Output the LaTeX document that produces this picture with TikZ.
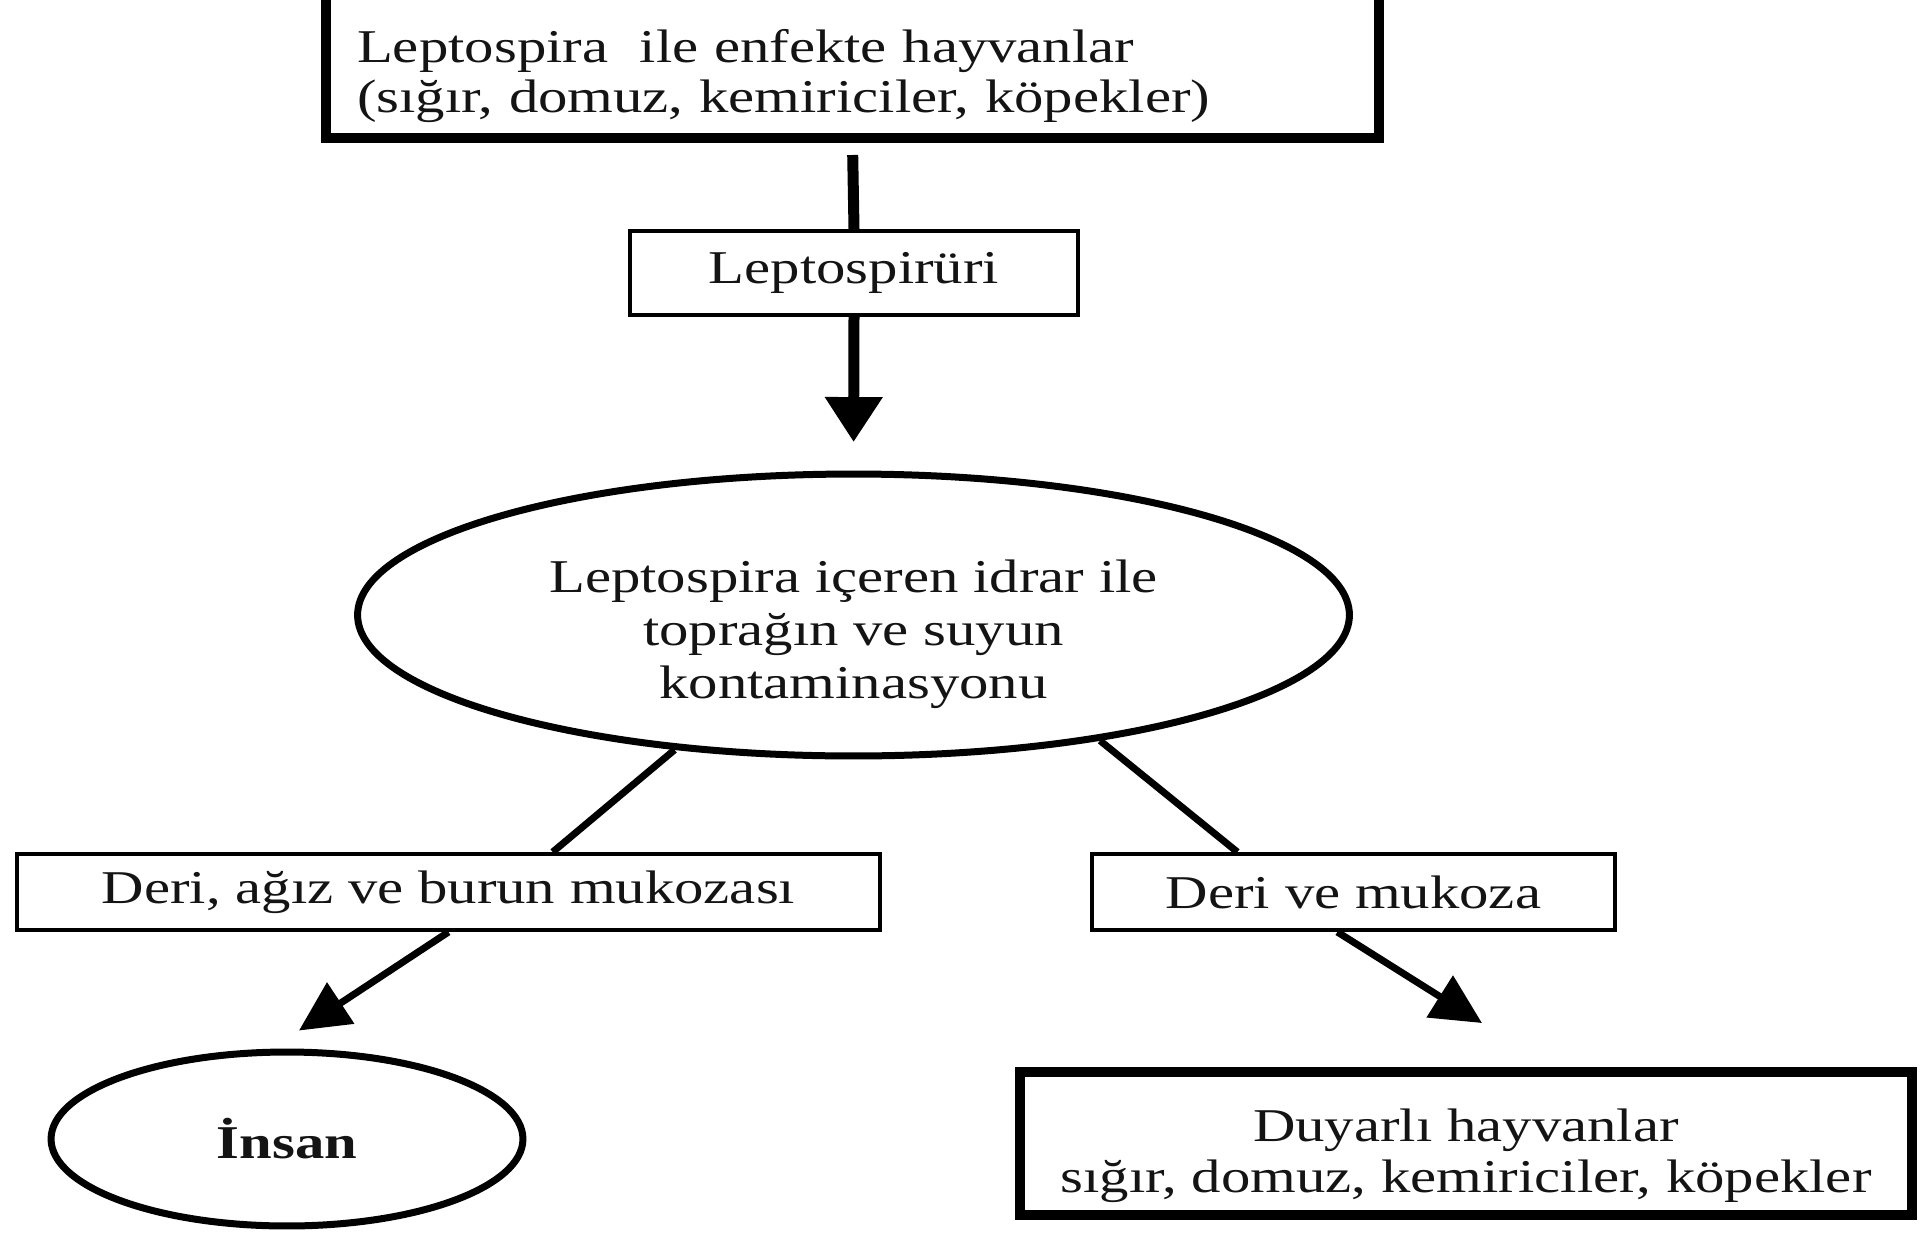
\documentclass[tikz,border=0pt]{standalone}
\usepackage{fontspec}
\setmainfont{Liberation Serif}[FakeStretch=1.25]
\usetikzlibrary{arrows.meta,positioning,calc,shapes.geometric}
\newcommand{\padtop}[1]{\rule{0pt}{#1}}
\newcommand{\diagfont}[1]{\fontsize{26.75pt}{#1}\selectfont}
\tikzset{
  thinBox/.style={draw, line width=0.08cm, inner sep=0pt, align=center, text=black!92, font={\diagfont{30pt}}},
  heavyBox/.style={draw, line width=0.21cm, inner sep=0pt, align=center, text=black!92},
  ovalNode/.style={ellipse, draw, line width=0.14cm, inner sep=0pt, align=center, text=black!92},
  flowLine/.style={line width=0.22cm},
  flowArrow/.style={flowLine, -{Triangle[length=0.9cm,width=1.1cm]}},
  branchLine/.style={line width=0.14cm},
  branchArrow/.style={branchLine, -{Triangle[length=1.0cm,width=0.96cm]}}
}
\begin{document}
\begin{tikzpicture}[x=0.02cm,y=-0.02cm]
  \useasboundingbox (0,0) rectangle (1921,1234);
  % source and route
  \node[heavyBox, anchor=south, align=left, text width=19.82cm, inner xsep=0.62cm, inner ysep=0.3cm, font={\diagfont{28.45pt}}] (hosts) at (852.5,143)
    {\padtop{1.2cm}Leptospira~ ile enfekte hayvanlar\\(sığır, domuz, kemiriciler, köpekler)};
  \node[thinBox, minimum width=8.96cm, minimum height=1.68cm] (urine) at (854,273) {Leptospirüri};
  \node[ovalNode, minimum width=19.84cm, minimum height=5.64cm, font={\diagfont{30.17pt}}] (soil) at (853.5,615)
    {\padtop{1.44cm}Leptospira içeren idrar ile\\toprağın ve suyun\\kontaminasyonu};
  % entry routes
  \node[thinBox, minimum width=17.26cm, minimum height=1.52cm] (humanRoute) at (448.5,892) {Deri, ağız ve burun mukozası};
  \node[thinBox, minimum width=10.46cm, minimum height=1.52cm] (animalRoute) at (1353.5,892) {Deri ve mukoza};
  % targets
  \node[ovalNode, minimum width=9.44cm, minimum height=3.48cm, font={\diagfont{30pt}\bfseries}] (human) at (287,1139) {İnsan};
  \node[heavyBox, line width=0.2cm, minimum width=17.84cm, minimum height=2.86cm, font={\diagfont{29pt}}] (animals) at (1466,1143.5)
    {\padtop{1.16cm}Duyarlı hayvanlar\\sığır, domuz, kemiriciler, köpekler};
  \coordinate (humanTip) at ($(human.north)+(12,-18)$);
  \coordinate (animalTip) at ($(animals.north)+(16,-44)$);
  % connectors
  \draw[flowLine, shorten <=0.24cm] (hosts.south) -- (urine.north);
  \draw[flowArrow, shorten >=0.57cm] (urine.south) -- (soil.north);
  \draw[branchLine] (soil.217) -- (humanRoute.21);
  \draw[branchLine] (soil.-27) -- (animalRoute.161);
  \draw[branchArrow] (humanRoute.south) -- (humanTip);
  \draw[branchArrow] (animalRoute.248) -- (animalTip);
\end{tikzpicture}
\end{document}
